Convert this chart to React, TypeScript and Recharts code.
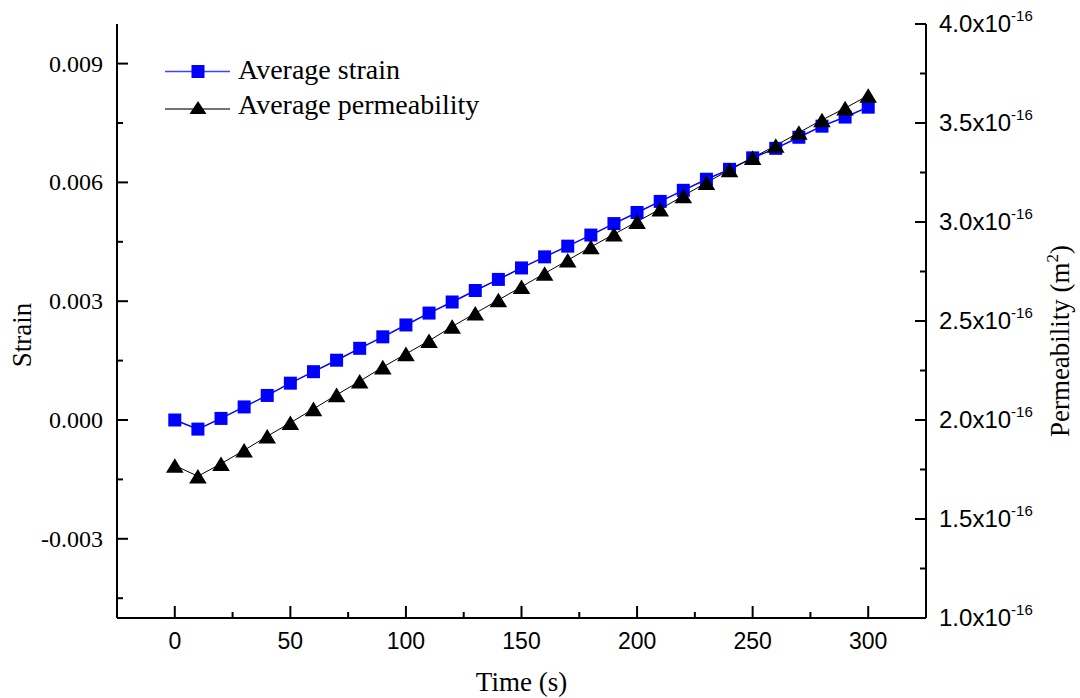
import React from 'react';
import { LineChart, Line, XAxis, YAxis } from 'recharts';

// time steps (s)
const times = [0, 10, 20, 30, 40, 50, 60, 70, 80, 90, 100, 110, 120, 130, 140, 150, 160, 170, 180, 190, 200, 210, 220, 230, 240, 250, 260, 270, 280, 290, 300];

// average strain (-)
const strain = [0, -0.00023, 0.00004, 0.00033, 0.00062, 0.00093, 0.00122, 0.00151, 0.00181, 0.0021, 0.0024,
  0.0027, 0.00298, 0.00327, 0.00355, 0.00384, 0.00412, 0.00439, 0.00467, 0.00496, 0.00524,
  0.00552, 0.0058, 0.00608, 0.00633, 0.00662, 0.00686, 0.00714, 0.00742, 0.00765, 0.0079];

// average permeability, in units of 1e-16 m^2
const permeability = [1.77, 1.716, 1.779, 1.847, 1.918, 1.986, 2.056, 2.127, 2.196, 2.267, 2.334,
  2.4, 2.472, 2.539, 2.606, 2.673, 2.74, 2.807, 2.874, 2.938, 3.002,
  3.065, 3.132, 3.199, 3.263, 3.325, 3.386, 3.452, 3.515, 3.575, 3.639];

const xTicks = [0, 25, 50, 75, 100, 125, 150, 175, 200, 225, 250, 275, 300];
const strainTicks = [-0.0045, -0.003, -0.0015, 0, 0.0015, 0.003, 0.0045, 0.006, 0.0075, 0.009];
const permTicks = [1.0, 1.25, 1.5, 1.75, 2.0, 2.25, 2.5, 2.75, 3.0, 3.25, 3.5, 3.75, 4.0];

const data = times.map((t, i) => ({ t, strain: strain[i], perm: permeability[i] }));

const SERIF = '"Liberation Serif", "Times New Roman", serif';
const SANS = '"Liberation Sans", Arial, sans-serif';

const isMajor = (v: number, step: number) => Math.abs(v / step - Math.round(v / step)) < 1e-6;

const BottomTick = ({ x, y, payload }: any) => {
  const major = isMajor(payload.value, 50);
  return (
    <g>
      <line x1={x} x2={x} y1={y} y2={y - (major ? 12 : 6)} stroke="#000" strokeWidth={2} />
      {major && (
        <text x={x} y={y + 31} textAnchor="middle" fontFamily={SANS} fontSize={23} fill="#000">
          {payload.value}
        </text>
      )}
    </g>
  );
};

const TopTick = ({ x, y }: any) => (
  <line x1={x} x2={x} y1={y} y2={y + 3} stroke="#000" strokeWidth={1} />
);

const LeftTick = ({ x, y, payload }: any) => {
  const major = isMajor(payload.value, 0.003);
  return (
    <g>
      <line x1={x} x2={x + (major ? 11 : 6)} y1={y} y2={y} stroke="#000" strokeWidth={2} />
      {major && (
        <text x={x - 14} y={y + 8} textAnchor="end" fontFamily={SERIF} fontSize={24} fill="#000">
          {Math.abs(payload.value) < 1e-12 ? '0.000' : payload.value.toFixed(3)}
        </text>
      )}
    </g>
  );
};

const RightTick = ({ x, y, payload }: any) => {
  const major = isMajor(payload.value, 0.5);
  return (
    <g>
      <line x1={x} x2={x - (major ? 11 : 6)} y1={y} y2={y} stroke="#000" strokeWidth={2} />
      {major && (
        <text x={x + 13} y={y + 8} textAnchor="start" fontFamily={SANS} fontSize={24} fill="#000">
          {payload.value.toFixed(1)}x10
          <tspan dy={-11} fontSize={15}>-16</tspan>
        </text>
      )}
    </g>
  );
};

const SquareDot = ({ cx, cy }: any) => (
  <rect x={cx - 6.5} y={cy - 6.5} width={13} height={13} fill="#0000ff" />
);

const TriangleDot = ({ cx, cy }: any) => (
  <polygon points={`${cx},${cy - 7.3} ${cx + 8.8},${cy + 7.3} ${cx - 8.8},${cy + 7.3}`} fill="#000" />
);

const StrainLabel = ({ viewBox }: any) => {
  const cx = viewBox.x + 22;
  const cy = viewBox.y + viewBox.height / 2 + 14;
  return (
    <text x={cx} y={cy} dy={9} transform={`rotate(-90, ${cx}, ${cy})`} textAnchor="middle" fontFamily={SERIF} fontSize={27} fill="#000">
      Strain
    </text>
  );
};

const PermLabel = ({ viewBox }: any) => {
  const cx = viewBox.x + 134;
  const cy = viewBox.y + viewBox.height / 2 + 20;
  return (
    <text x={cx} y={cy} dy={9} transform={`rotate(-90, ${cx}, ${cy})`} textAnchor="middle" fontFamily={SERIF} fontSize={27} fill="#000">
      Permeability (m<tspan dy={-11} fontSize={17}>2</tspan><tspan dy={11}>)</tspan>
    </text>
  );
};

const TimeLabel = ({ viewBox }: any) => (
  <text x={viewBox.x + viewBox.width / 2} y={viewBox.y + 73} textAnchor="middle" fontFamily={SERIF} fontSize={27} fill="#000">
    Time (s)
  </text>
);

const LegendBox = () => (
  <svg width={360} height={80} style={{ position: 'absolute', left: 160, top: 50 }}>
    <line x1={5} x2={70} y1={21.5} y2={21.5} stroke="#4040ff" strokeWidth={1.5} />
    <rect x={31.5} y={15} width={13} height={13} fill="#0000ff" />
    <text x={78} y={28.5} fontFamily={SERIF} fontSize={28} fill="#000">Average strain</text>
    <line x1={5} x2={70} y1={59} y2={59} stroke="#444" strokeWidth={1.5} />
    <polygon points="38,51 46.5,64 29.5,64" fill="#000" />
    <text x={78} y={64} fontFamily={SERIF} fontSize={28} fill="#000">Average permeability</text>
  </svg>
);

export default function App() {
  return (
    <div style={{ position: 'absolute', left: 0, top: 0, width: 1080, height: 698, background: '#fff' }}>
      <LineChart width={1080} height={698} data={data} margin={{ top: 24, right: 0, bottom: 0, left: 0 }}>
        <XAxis
          xAxisId="x"
          dataKey="t"
          type="number"
          domain={[-25, 325]}
          ticks={xTicks}
          interval={0}
          height={80}
          tickSize={0}
          tickMargin={0}
          tickLine={false}
          axisLine={{ stroke: '#000', strokeWidth: 2 }}
          tick={<BottomTick />}
          label={<TimeLabel />}
        />
        <XAxis
          xAxisId="top"
          orientation="top"
          dataKey="t"
          type="number"
          domain={[-25, 325]}
          ticks={xTicks}
          interval={0}
          height={0}
          tickSize={0}
          tickMargin={0}
          tickLine={false}
          axisLine={{ stroke: '#000', strokeWidth: 2 }}
          tick={<TopTick />}
        />
        <YAxis
          yAxisId="left"
          type="number"
          domain={[-0.005, 0.01]}
          ticks={strainTicks}
          interval={0}
          width={117}
          tickSize={0}
          tickMargin={0}
          tickLine={false}
          axisLine={{ stroke: '#000', strokeWidth: 2 }}
          tick={<LeftTick />}
          label={<StrainLabel />}
          allowDataOverflow
        />
        <YAxis
          yAxisId="right"
          orientation="right"
          type="number"
          domain={[1.0, 4.0]}
          ticks={permTicks}
          interval={0}
          width={154}
          tickSize={0}
          tickMargin={0}
          tickLine={false}
          axisLine={{ stroke: '#000', strokeWidth: 2 }}
          tick={<RightTick />}
          label={<PermLabel />}
          allowDataOverflow
        />
        <Line
          xAxisId="x"
          yAxisId="left"
          dataKey="strain"
          stroke="#0000ff"
          strokeWidth={1.5}
          dot={<SquareDot />}
          activeDot={false}
          isAnimationActive={false}
        />
        <Line
          xAxisId="x"
          yAxisId="right"
          dataKey="perm"
          stroke="#000"
          strokeWidth={1}
          dot={<TriangleDot />}
          activeDot={false}
          isAnimationActive={false}
        />
      </LineChart>
      <LegendBox />
    </div>
  );
}
